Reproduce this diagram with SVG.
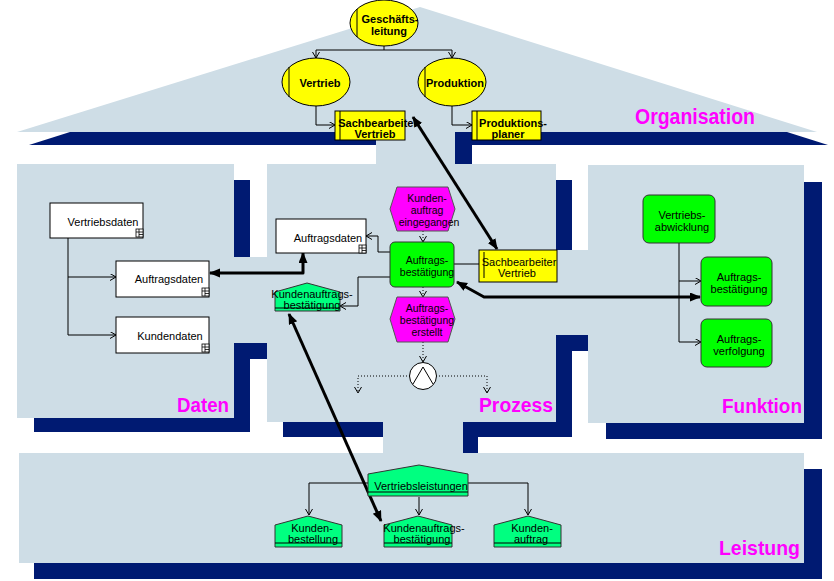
<svg xmlns="http://www.w3.org/2000/svg" width="834" height="581" viewBox="0 0 834 581">
<style>
.pan{fill:#cedde6}
.nav{fill:#001a72}
.t{font-family:"Liberation Sans",Arial,sans-serif;font-size:11px;fill:#000;text-anchor:middle}
.s{font-size:10.5px}
.b{font-weight:bold}
.lbl{font-family:"Liberation Sans",Arial,sans-serif;font-weight:bold;fill:#ff00ff;font-size:21px}
.c{fill:none;stroke:#000;stroke-width:1}
.d{fill:none;stroke:#000;stroke-width:1;stroke-dasharray:1,2}
.k{fill:none;stroke:#000;stroke-width:3;stroke-linejoin:round}
.org{fill:#ffff00;stroke:#000;stroke-width:1}
.fn{fill:#00ff00;stroke:#333;stroke-width:1}
.ev{fill:#ff00ff;stroke:#555;stroke-width:1}
.pr{fill:#00ff80;stroke:#333;stroke-width:1}
.dat{fill:#fff;stroke:#000;stroke-width:1}
</style>
<defs>
<marker id="oa" markerWidth="8" markerHeight="8" refX="6" refY="3.5" orient="auto" markerUnits="userSpaceOnUse">
<path d="M0,0 L6,3.5 L0,7" fill="none" stroke="#000" stroke-width="1"/>
</marker>
<marker id="ka" markerWidth="12" markerHeight="10" refX="10" refY="4.5" orient="auto-start-reverse" markerUnits="userSpaceOnUse">
<path d="M0,0 L11,4.5 L0,9 Z" fill="#000"/>
</marker>
<g id="icon"><rect x="0" y="0" width="7" height="8" fill="#fff" stroke="#000" stroke-width="0.8"/><path d="M0,3 H7 M3,0 V8 M3,5.5 H7" stroke="#000" stroke-width="0.8"/></g>
</defs>

<!-- house background -->
<g id="house">
<polygon class="nav" points="70,132 787,132 828,145 29,145"/>
<polygon class="pan" points="17,132 420,7 817,132"/>
<rect class="nav" x="455" y="132" width="17" height="32"/>
<rect class="pan" x="376" y="132" width="79" height="33"/>
<!-- Daten -->
<rect class="nav" x="234" y="180" width="16" height="77"/>
<rect class="nav" x="234" y="343" width="16" height="89"/>
<rect class="nav" x="234" y="343" width="33" height="16"/>
<rect class="nav" x="34" y="418" width="216" height="14"/>
<rect class="pan" x="17" y="164" width="217" height="254"/>
<rect class="pan" x="233" y="257" width="35" height="86"/>
<!-- Prozess -->
<rect class="nav" x="556" y="180" width="16" height="70"/>
<rect class="nav" x="556" y="335" width="16" height="102"/>
<rect class="nav" x="556" y="335" width="32" height="16"/>
<rect class="nav" x="283" y="422" width="100" height="15"/>
<rect class="nav" x="463" y="422" width="109" height="15"/>
<rect class="nav" x="463" y="422" width="15" height="31"/>
<rect class="pan" x="267" y="164" width="289" height="258"/>
<rect class="pan" x="555" y="250" width="34" height="85"/>
<rect class="pan" x="383" y="421" width="80" height="33"/>
<!-- Funktion -->
<rect class="nav" x="804" y="182" width="18" height="257"/>
<rect class="nav" x="606" y="423" width="216" height="16"/>
<rect class="pan" x="588" y="165" width="216" height="258"/>
<!-- Leistung -->
<rect class="nav" x="804" y="469" width="18" height="110"/>
<rect class="nav" x="34" y="563" width="788" height="16"/>
<rect class="pan" x="19" y="453" width="785" height="110"/>
</g>

<g id="labels">
<text class="lbl" x="635" y="124" textLength="120" lengthAdjust="spacingAndGlyphs" style="font-size:22px">Organisation</text>
<text class="lbl" x="177" y="412" textLength="52" lengthAdjust="spacingAndGlyphs">Daten</text>
<text class="lbl" x="479" y="412" textLength="74" lengthAdjust="spacingAndGlyphs">Prozess</text>
<text class="lbl" x="722" y="413" textLength="80" lengthAdjust="spacingAndGlyphs">Funktion</text>
<text class="lbl" x="719" y="555" textLength="81" lengthAdjust="spacingAndGlyphs">Leistung</text>
</g>

<g id="connectors">
<path class="c" d="M384,46 V50"/>
<path class="c" d="M384,50 H316 V58" marker-end="url(#oa)"/>
<path class="c" d="M384,50 H452 V58" marker-end="url(#oa)"/>
<path class="c" d="M316,106 V125 H335" marker-end="url(#oa)"/>
<path class="c" d="M452,106 V125 H472" marker-end="url(#oa)"/>
<path class="c" d="M68,238 V277 H116" marker-end="url(#oa)"/>
<path class="c" d="M68,277 V335 H116" marker-end="url(#oa)"/>
<path class="c" d="M679,243 V281 H701" marker-end="url(#oa)"/>
<path class="c" d="M679,281 V342 H701" marker-end="url(#oa)"/>
<path class="c" d="M368,483 H309 V515" marker-end="url(#oa)"/>
<path class="c" d="M468,483 H528 V515" marker-end="url(#oa)"/>
<path class="c" d="M419,497 V515" marker-end="url(#oa)"/>
<path class="c" d="M390,252 H378 V236 H366" marker-end="url(#oa)"/>
<path class="c" d="M390,277 H358 V306 H340" marker-end="url(#oa)"/>
<path class="c" d="M454,264 H479"/>
<path class="d" d="M423,231 V242" marker-end="url(#oa)"/>
<path class="d" d="M423,287 V297" marker-end="url(#oa)"/>
<path class="d" d="M423,342 V362" marker-end="url(#oa)"/>
<path class="d" d="M410,376 H358 V393" marker-end="url(#oa)"/>
<path class="d" d="M436,376 H487 V393" marker-end="url(#oa)"/>
<path class="k" d="M210,273 H303 V253" marker-start="url(#ka)" marker-end="url(#ka)"/>
<path class="k" d="M457,282 L484,297 H700" marker-start="url(#ka)" marker-end="url(#ka)"/>
<path class="k" d="M289,314 L381,521" marker-start="url(#ka)" marker-end="url(#ka)"/>
<path class="k" d="M413,117 L497,249" marker-start="url(#ka)" marker-end="url(#ka)"/>
</g>

<!-- Organisation -->
<g id="geschaeftsleitung">
<ellipse class="org" cx="384" cy="23" rx="34" ry="23"/>
<path class="c" d="M357,9 V37"/>
<text class="t b" x="390" y="23">Geschäfts-</text>
<text class="t b" x="389" y="35">leitung</text>
</g>
<g id="vertrieb">
<ellipse class="org" cx="316" cy="82" rx="34" ry="24"/>
<path class="c" d="M289,67 V97"/>
<text class="t b" x="320" y="87">Vertrieb</text>
</g>
<g id="produktion">
<ellipse class="org" cx="452" cy="82" rx="34" ry="24"/>
<path class="c" d="M425,67 V97"/>
<text class="t b" x="455" y="87">Produktion</text>
</g>
<g id="sachbearbeiter-org">
<rect class="org" x="335" y="111" width="70" height="29"/>
<path class="c" d="M340,111 V140"/>
<text class="t b" x="378" y="127">Sachbearbeiter</text>
<text class="t b" x="375" y="138">Vertrieb</text>
</g>
<g id="produktionsplaner">
<rect class="org" x="472" y="111" width="69" height="29"/>
<path class="c" d="M477,111 V140"/>
<text class="t b" x="513" y="127">Produktions-</text>
<text class="t b" x="508" y="138">planer</text>
</g>

<!-- Daten -->
<g id="vertriebsdaten">
<rect class="dat" x="50" y="203" width="93" height="35"/>
<text class="t" x="103" y="226">Vertriebsdaten</text>
<use href="#icon" x="136" y="229"/>
</g>
<g id="auftragsdaten-daten">
<rect class="dat" x="116" y="261" width="93" height="36"/>
<text class="t" x="169" y="283">Auftragsdaten</text>
<use href="#icon" x="202" y="288"/>
</g>
<g id="kundendaten">
<rect class="dat" x="116" y="317" width="93" height="36"/>
<text class="t" x="170" y="340">Kundendaten</text>
<use href="#icon" x="202" y="344"/>
</g>

<!-- Prozess -->
<g id="auftragsdaten-prozess">
<rect class="dat" x="276" y="219" width="90" height="34"/>
<text class="t" x="328" y="242">Auftragsdaten</text>
<use href="#icon" x="359" y="245"/>
</g>
<g id="ev-kundenauftrag">
<polygon class="ev" points="397,187 448,187 455,209 448,231 397,231 390,209"/>
<text class="t s" x="427" y="202">Kunden-</text>
<text class="t s" x="427" y="214">auftrag</text>
<text class="t s" x="429" y="226">eingegangen</text>
</g>
<g id="fn-auftragsbestaetigung-prozess">
<rect class="fn" x="390" y="242" width="64" height="45" rx="5"/>
<text class="t s" x="427" y="264">Auftrags-</text>
<text class="t s" x="427" y="276">bestätigung</text>
</g>
<g id="ev-auftragsbestaetigung-erstellt">
<polygon class="ev" points="397,297 448,297 455,319 448,342 397,342 390,319"/>
<text class="t s" x="427" y="312">Auftrags-</text>
<text class="t s" x="427" y="324">bestätigung</text>
<text class="t s" x="427" y="336">erstellt</text>
</g>
<g id="and-operator">
<circle cx="423" cy="376" r="13.5" fill="#fff" stroke="#000" stroke-width="1"/>
<path class="c" d="M413,384 L423,367 L433,384"/>
</g>
<g id="sachbearbeiter-prozess">
<rect class="org" x="479" y="250" width="78" height="32"/>
<path class="c" d="M484,252 V278"/>
<text class="t" x="519" y="266">Sachbearbeiter</text>
<text class="t" x="517" y="277">Vertrieb</text>
</g>
<g id="pr-kundenauftragsbestaetigung-prozess">
<polygon class="pr" points="275,292 307,283 340,292 340,311 275,311"/>
<path class="c" d="M275,308 H340"/>
<text class="t" x="312" y="298">Kundenauftrags-</text>
<text class="t" x="312" y="309">bestätigung</text>
</g>

<!-- Funktion -->
<g id="fn-vertriebsabwicklung">
<rect class="fn" x="643" y="195" width="72" height="48" rx="6"/>
<text class="t" x="682" y="219">Vertriebs-</text>
<text class="t" x="682" y="231">abwicklung</text>
</g>
<g id="fn-auftragsbestaetigung">
<rect class="fn" x="701" y="257" width="71" height="49" rx="6"/>
<text class="t" x="739" y="281">Auftrags-</text>
<text class="t" x="739" y="293">bestätigung</text>
</g>
<g id="fn-auftragsverfolgung">
<rect class="fn" x="701" y="319" width="71" height="48" rx="6"/>
<text class="t" x="739" y="343">Auftrags-</text>
<text class="t" x="739" y="355">verfolgung</text>
</g>

<!-- Leistung -->
<g id="pr-vertriebsleistungen">
<polygon class="pr" points="368,474 419,465 468,474 468,496 368,496"/>
<path class="c" d="M368,492 H468"/>
<text class="t" x="421" y="490">Vertriebsleistungen</text>
</g>
<g id="pr-kundenbestellung">
<polygon class="pr" points="275,525 308,516 342,525 342,547 275,547"/>
<path class="c" d="M275,543 H342"/>
<text class="t" x="312" y="532">Kunden-</text>
<text class="t" x="313" y="543">bestellung</text>
</g>
<g id="pr-kundenauftragsbestaetigung">
<polygon class="pr" points="384,525 418,516 452,525 452,547 384,547"/>
<path class="c" d="M384,543 H452"/>
<text class="t" x="424" y="532">Kundenauftrags-</text>
<text class="t" x="422" y="543">bestätigung</text>
</g>
<g id="pr-kundenauftrag">
<polygon class="pr" points="494,525 528,516 561,525 561,547 494,547"/>
<path class="c" d="M494,543 H561"/>
<text class="t" x="532" y="532">Kunden-</text>
<text class="t" x="531" y="543">auftrag</text>
</g>
</svg>
